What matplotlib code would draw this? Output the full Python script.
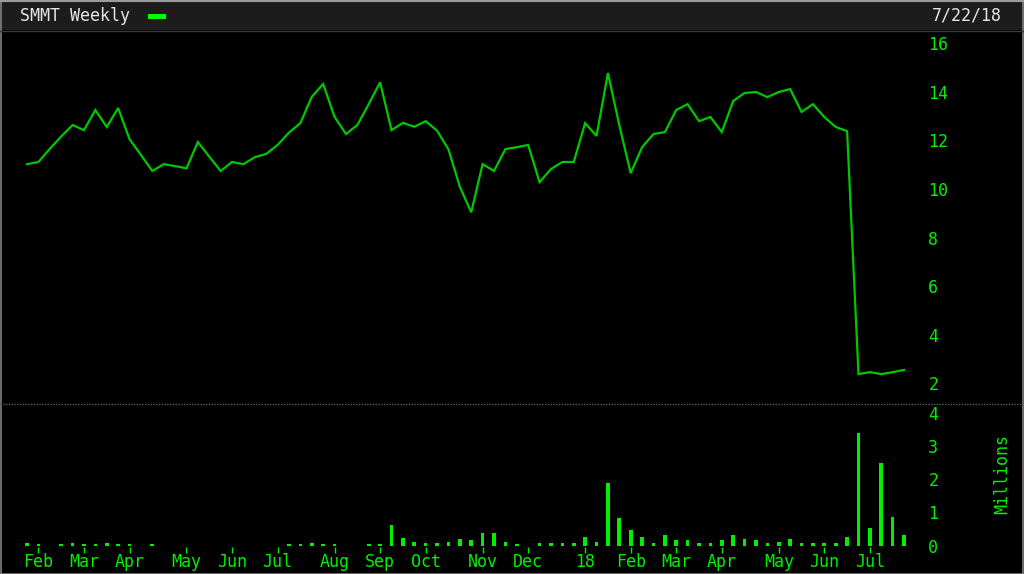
import matplotlib
matplotlib.use("Agg")
import matplotlib.pyplot as plt
from matplotlib.patches import Rectangle
import numpy as np

# ---------------- data ----------------
title = "SMMT Weekly"
date_label = "7/22/18"

price = [11.02, 11.11, 11.65, 12.16, 12.63, 12.42, 13.25, 12.55, 13.33, 12.05,
         11.40, 10.74, 11.02, 10.94, 10.85, 11.93, 11.33, 10.74, 11.11, 11.02,
         11.31, 11.44, 11.81, 12.32, 12.71, 13.79, 14.32, 12.97, 12.26, 12.63,
         13.49, 14.39, 12.42, 12.72, 12.56, 12.79, 12.40, 11.63, 10.09, 9.04,
         11.02, 10.74, 11.64, 11.72, 11.81, 10.28, 10.82, 11.11, 11.11, 12.71,
         12.18, 14.77, 12.63, 10.65, 11.72, 12.26, 12.34, 13.25, 13.49, 12.79,
         12.96, 12.34, 13.62, 13.95, 13.99, 13.78, 13.99, 14.11, 13.17, 13.49,
         12.96, 12.55, 12.38, 2.38, 2.46, 2.38, 2.46, 2.55]

volume_m = [0.08, 0.04, 0.00, 0.05, 0.08, 0.04, 0.05, 0.08, 0.05, 0.04,
            0.00, 0.05, 0.00, 0.00, 0.00, 0.00, 0.00, 0.00, 0.00, 0.00,
            0.00, 0.00, 0.00, 0.04, 0.06, 0.08, 0.05, 0.04, 0.00, 0.00,
            0.05, 0.05, 0.62, 0.22, 0.10, 0.08, 0.08, 0.12, 0.19, 0.17,
            0.37, 0.37, 0.12, 0.06, 0.00, 0.08, 0.08, 0.08, 0.08, 0.27,
            0.12, 1.88, 0.82, 0.47, 0.27, 0.08, 0.32, 0.17, 0.17, 0.08,
            0.08, 0.17, 0.32, 0.20, 0.17, 0.08, 0.12, 0.20, 0.08, 0.08,
            0.08, 0.08, 0.27, 3.40, 0.52, 2.51, 0.87, 0.32]

month_ticks = [1, 5, 9, 14, 18, 22, 27, 31, 35, 40, 44, 49, 53, 57, 61, 66, 70, 74]
month_labels = ["Feb", "Mar", "Apr", "May", "Jun", "Jul", "Aug", "Sep", "Oct",
                "Nov", "Dec", "18", "Feb", "Mar", "Apr", "May", "Jun", "Jul"]

price_ticks = [2, 4, 6, 8, 10, 12, 14, 16]
volume_ticks = [0, 1, 2, 3, 4]

weeks = np.arange(len(price))

# ---------------- style ----------------
W, H = 1024, 574
LINE = "#00c800"
GREEN = "#00ee00"
FONT = "DejaVu Sans Mono"
FS = 12

fig = plt.figure(figsize=(W / 100, H / 100), dpi=100, facecolor="black")


def px_rect(x0, y0, x1, y1):
    """Convert pixel box (top-left origin) to figure fraction [l, b, w, h]."""
    return [x0 / W, 1 - y1 / H, (x1 - x0) / W, (y1 - y0) / H]


xlim = (-2.195, 78.4)

# price panel
ax = fig.add_axes(px_rect(2, 32, 920, 403))
ax.set_facecolor("black")
ax.plot(weeks, price, color=LINE, lw=1.6, solid_joinstyle="miter")
ax.set_xlim(*xlim)
ax.set_ylim(1.19, 16.46)
ax.set_yticks(price_ticks)
ax.yaxis.tick_right()
ax.tick_params(axis="y", length=0, pad=6, labelcolor=GREEN, labelsize=FS)
ax.set_xticks([])
for lab in ax.get_yticklabels():
    lab.set_fontfamily(FONT)
for s in ax.spines.values():
    s.set_visible(False)

# volume panel
ax2 = fig.add_axes(px_rect(2, 405, 920, 547))
ax2.set_facecolor("black")
ax2.bar(weeks, volume_m, width=0.32, color=GREEN, linewidth=0)
ax2.set_xlim(*xlim)
ax2.set_ylim(-0.045, 4.25)
ax2.set_yticks(volume_ticks)
ax2.yaxis.tick_right()
ax2.tick_params(axis="y", length=0, pad=6, labelcolor=GREEN, labelsize=FS)
ax2.set_xticks(month_ticks)
ax2.set_xticklabels(month_labels)
ax2.tick_params(axis="x", length=4, width=1, color=GREEN, pad=0.5,
                labelcolor=GREEN, labelsize=FS, direction="out")
for lab in ax2.get_xticklabels() + ax2.get_yticklabels():
    lab.set_fontfamily(FONT)
for s in ax2.spines.values():
    s.set_visible(False)

fig.text(1002 / W, 1 - 474 / H, "Millions", rotation=90, color=GREEN,
         fontsize=FS, family=FONT, ha="center", va="center")

# separator between panels (dotted)
fig.add_artist(plt.Line2D([0, 1], [1 - 403.5 / H, 1 - 403.5 / H],
                          transform=fig.transFigure, color="#5a5a5a",
                          lw=1, linestyle=(0, (1, 1))))

# header bar
fig.add_artist(Rectangle((0, 1 - 30 / H), 1, 30 / H, transform=fig.transFigure,
                         facecolor="#1c1c1c", edgecolor="none", zorder=0))
fig.add_artist(plt.Line2D([0, 1], [1 - 1 / H, 1 - 1 / H], transform=fig.transFigure,
                          color="#9a9a9a", lw=1.5))
fig.add_artist(plt.Line2D([0, 1], [1 - 30.5 / H, 1 - 30.5 / H], transform=fig.transFigure,
                          color="#3a3a3a", lw=1))
fig.text(20 / W, 1 - 16 / H, title, color="#e6e6e6", fontsize=FS, family=FONT,
         ha="left", va="center")
fig.add_artist(Rectangle((148 / W, 1 - 19 / H), 18 / W, 5 / H, transform=fig.transFigure,
                         facecolor="#00ff00", edgecolor="none"))
fig.text(1002 / W, 1 - 16 / H, date_label, color="#e6e6e6", fontsize=FS, family=FONT,
         ha="right", va="center")

# outer frame
fig.add_artist(Rectangle((0.5 / W, 0.5 / H), 1 - 1.5 / W, 1 - 1.5 / H,
                         transform=fig.transFigure, facecolor="none",
                         edgecolor="#808080", lw=1.2))

fig.savefig("out.png", dpi=100, facecolor="black")
